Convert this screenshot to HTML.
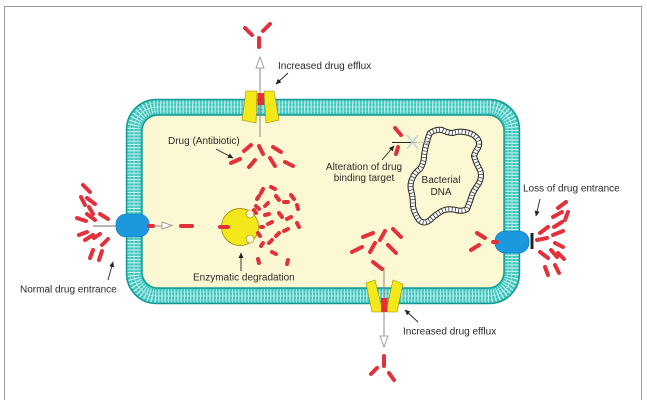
<!DOCTYPE html>
<html><head><meta charset="utf-8"><style>
html,body{margin:0;padding:0;background:#fff;}
svg{display:block;}
text{font-family:"Liberation Sans",Arial,sans-serif;font-size:10px;fill:#2a2a2a;}
</style></head><body>
<svg width="647" height="409" viewBox="0 0 647 409" xmlns="http://www.w3.org/2000/svg">
<defs>
<marker id="ah" markerWidth="6" markerHeight="6" refX="5" refY="3" orient="auto" markerUnits="userSpaceOnUse">
<path d="M0,0.5 L5.5,3 L0,5.5 Z" fill="#222"/></marker>
<path id="dnap" d="M430,133 Q436,129 442,130 Q448,133 453,133 Q458,131 464,132 Q472,133 476,137 Q481,142 478,148 Q475,152 474,156 Q476,163 479,168 Q483,175 479,183 Q474,190 472,195 Q470,202 467,209 Q462,212 456,210 Q448,208 442,211 Q435,215 430,220 Q424,225 419,220 Q414,213 413,206 Q413,200 412,194 Q409,186 412,179 Q415,172 420,169 Q424,163 424,156 Q425,148 427,142 Q428,137 430,133 Z"/>
</defs>
<!-- frame -->
<path d="M4.5,400 V6.5 H641.5 V400" fill="none" stroke="#9a9a9a" stroke-width="1"/>

<!-- membrane -->
<path fill-rule="evenodd" fill="#38c4bc" d="M156,99 H490 A30,30 0 0 1 520,129 V274 A30,30 0 0 1 490,304 H156 A30,30 0 0 1 126,274 V129 A30,30 0 0 1 156,99 Z M158,115 H488 A16,16 0 0 1 504,131 V272 A16,16 0 0 1 488,288 H158 A16,16 0 0 1 142,272 V131 A16,16 0 0 1 158,115 Z"/>
<rect x="134" y="107" width="378" height="189" rx="23" fill="none" stroke="#d2f4f0" stroke-width="13" stroke-dasharray="1.1 2.1"/>
<rect x="134" y="107" width="378" height="189" rx="23" fill="none" stroke="#bdeeea" stroke-width="0.8"/>
<rect x="130" y="103" width="386" height="197" rx="27" fill="none" stroke="#9fe3de" stroke-width="0.6"/>
<rect x="138" y="111" width="370" height="181" rx="19" fill="none" stroke="#9fe3de" stroke-width="0.6"/>
<rect x="126.5" y="99.5" width="393" height="204" rx="30" fill="none" stroke="#139a92" stroke-width="1.4"/>
<rect x="142" y="115" width="362" height="173" rx="16" fill="#fcf8d3" stroke="#139a92" stroke-width="1.4"/>

<!-- top efflux pump -->
<line x1="260" y1="137" x2="260" y2="68" stroke="#8a8a8a" stroke-width="1"/>
<path d="M260,57 L256,68 L264,68 Z" fill="#fff" stroke="#8a8a8a" stroke-width="0.8"/>
<polygon points="246,91 257,91 256,123 242,120" fill="#f5e81a" stroke="#9a8b00" stroke-width="0.6"/>
<polygon points="264,91 274,91 279,120 266,123" fill="#f5e81a" stroke="#9a8b00" stroke-width="0.6"/>
<rect x="257.5" y="93" width="6.5" height="12" fill="#e3313c"/>

<!-- bottom efflux pump -->
<line x1="384" y1="267" x2="384" y2="336" stroke="#8a8a8a" stroke-width="1"/>
<path d="M384,347 L380,336 L388,336 Z" fill="#fff" stroke="#8a8a8a" stroke-width="0.8"/>
<polygon points="366,283 375,280 383,312 372,312" fill="#f5e81a" stroke="#9a8b00" stroke-width="0.6"/>
<polygon points="393,280 403,284 397,312 386,312" fill="#f5e81a" stroke="#9a8b00" stroke-width="0.6"/>
<rect x="381" y="298" width="6.5" height="14" fill="#e3313c"/>

<!-- left porin -->
<line x1="93" y1="226" x2="118" y2="226" stroke="#8a8a8a" stroke-width="1.2"/>
<rect x="116" y="214" width="33" height="23" rx="10" fill="#1b98de" stroke="#0d6fae" stroke-width="0.6"/>
<line x1="153" y1="226" x2="163" y2="226" stroke="#8a8a8a" stroke-width="1"/>
<path d="M172,225.5 L162,222 L162,229 Z" fill="#fff" stroke="#8a8a8a" stroke-width="0.8"/>

<!-- right porin -->
<rect x="495" y="231" width="34" height="22" rx="10" fill="#1b98de" stroke="#0d6fae" stroke-width="0.6"/>
<line x1="532" y1="233" x2="532" y2="249" stroke="#222" stroke-width="3"/>

<!-- enzyme -->
<circle cx="240" cy="227" r="18.5" fill="#f5e81a" stroke="#8a7d00" stroke-width="0.7"/>
<circle cx="250" cy="214" r="4" fill="#fcf8d3" stroke="#8a7d00" stroke-width="0.6"/>
<circle cx="250" cy="239" r="4" fill="#fcf8d3" stroke="#8a7d00" stroke-width="0.6"/>

<!-- DNA -->
<g fill="none" stroke-linejoin="round">
<use href="#dnap" stroke="#222" stroke-width="6"/>
<use href="#dnap" stroke="#fff" stroke-width="4"/>
<use href="#dnap" stroke="#222" stroke-width="3.8" stroke-dasharray="0.7 2.6"/>
</g>

<!-- alteration of target -->
<line x1="392" y1="142.5" x2="411" y2="142.5" stroke="#222" stroke-width="1"/>
<line x1="407" y1="135" x2="418" y2="149" stroke="#c4d2de" stroke-width="1.5"/>
<line x1="407" y1="149" x2="418" y2="135" stroke="#c4d2de" stroke-width="1.5"/>
<line x1="412" y1="142.5" x2="426" y2="142.5" stroke="#999" stroke-width="0.8" stroke-dasharray="2 1"/>
<path d="M429,142.5 L424,140.5 M429,142.5 L424,144.5" stroke="#999" stroke-width="0.8" fill="none"/>

<!-- drugs (rods) -->
<g stroke="#e3313c" stroke-width="4" stroke-linecap="round" fill="none">
<line x1="245" y1="28" x2="252" y2="35"/><line x1="263" y1="31" x2="270" y2="24"/><line x1="259" y1="38" x2="259" y2="47"/>
<line x1="244" y1="151" x2="251" y2="145"/><line x1="259" y1="146" x2="263" y2="154"/><line x1="273" y1="147" x2="281" y2="152"/>
<line x1="231" y1="163" x2="240" y2="159"/><line x1="249" y1="167" x2="255" y2="160"/><line x1="270" y1="158" x2="275" y2="166"/><line x1="285" y1="162" x2="293" y2="166"/>
<line x1="83" y1="185" x2="90" y2="192"/><line x1="81" y1="197" x2="85" y2="205"/><line x1="87" y1="198" x2="95" y2="204"/>
<line x1="89" y1="207" x2="93" y2="214"/><line x1="77" y1="218" x2="86" y2="221"/><line x1="87" y1="214" x2="95" y2="220"/>
<line x1="100" y1="214" x2="108" y2="219"/><line x1="79" y1="235" x2="87" y2="232"/><line x1="85" y1="240" x2="93" y2="235"/>
<line x1="94" y1="238" x2="100" y2="234"/><line x1="102" y1="245" x2="108" y2="239"/><line x1="90" y1="258" x2="93" y2="250"/><line x1="99" y1="260" x2="102" y2="251"/>
<line x1="149" y1="226" x2="153" y2="226"/>
<line x1="181" y1="226" x2="192" y2="226"/>
<line x1="220" y1="227" x2="228" y2="227"/>
<line x1="261" y1="227" x2="263" y2="227"/>
<line x1="395" y1="128" x2="401" y2="135"/><line x1="398" y1="147" x2="396" y2="154"/>
<line x1="363" y1="237" x2="373" y2="233"/><line x1="380" y1="240" x2="385" y2="231"/><line x1="393" y1="229" x2="401" y2="237"/>
<line x1="352" y1="252" x2="362" y2="247"/><line x1="370" y1="252" x2="375" y2="243"/><line x1="388" y1="245" x2="396" y2="253"/>
<line x1="373" y1="262" x2="382" y2="269"/>
<line x1="384" y1="356" x2="384" y2="366"/><line x1="371" y1="374" x2="377" y2="368"/><line x1="389" y1="373" x2="394" y2="380"/>
<line x1="477" y1="233" x2="485" y2="238"/><line x1="471" y1="250" x2="479" y2="245"/>
<line x1="493" y1="242" x2="497" y2="242"/>
<line x1="558" y1="208" x2="566" y2="202"/><line x1="553" y1="217" x2="562" y2="212"/><line x1="565" y1="220" x2="568" y2="212"/>
<line x1="540" y1="233" x2="548" y2="227"/><line x1="554" y1="227" x2="562" y2="222"/><line x1="553" y1="235" x2="563" y2="231"/>
<line x1="537" y1="240" x2="547" y2="238"/><line x1="555" y1="243" x2="563" y2="247"/><line x1="540" y1="252" x2="548" y2="258"/>
<line x1="551" y1="250" x2="557" y2="257"/><line x1="558" y1="253" x2="564" y2="259"/><line x1="545" y1="267" x2="548" y2="275"/><line x1="555" y1="265" x2="559" y2="273"/>
</g>
<!-- enzyme fragments -->
<g stroke="#e3313c" stroke-width="4" stroke-linecap="round">
<line x1="261" y1="193" x2="263" y2="189"/><line x1="271" y1="187" x2="275" y2="189"/><line x1="276" y1="196" x2="279" y2="200"/>
<line x1="284" y1="202" x2="288" y2="202"/><line x1="291" y1="195" x2="294" y2="199"/><line x1="297" y1="205" x2="298" y2="209"/>
<line x1="256" y1="206" x2="259" y2="209"/><line x1="265" y1="215" x2="269" y2="214"/><line x1="279" y1="213" x2="282" y2="217"/>
<line x1="287" y1="219" x2="291" y2="217"/><line x1="297" y1="223" x2="299" y2="227"/><line x1="268" y1="224" x2="272" y2="222"/>
<line x1="276" y1="236" x2="279" y2="233"/><line x1="284" y1="231" x2="288" y2="229"/><line x1="269" y1="243" x2="272" y2="240"/>
<line x1="261" y1="246" x2="263" y2="243"/><line x1="272" y1="252" x2="276" y2="254"/><line x1="258" y1="259" x2="259" y2="263"/>
<line x1="288" y1="260" x2="287" y2="264"/><line x1="254" y1="210" x2="256" y2="213"/>
<line x1="257" y1="199" x2="259" y2="196"/><line x1="265" y1="206" x2="268" y2="203"/><line x1="258" y1="233" x2="260" y2="236"/>
</g>

<!-- pointer arrows -->
<g stroke="#222" stroke-width="0.9" fill="none" marker-end="url(#ah)">
<line x1="288" y1="73" x2="276" y2="84"/>
<line x1="216" y1="149" x2="233" y2="158"/>
<line x1="382" y1="160" x2="394" y2="146"/>
<line x1="540" y1="199" x2="536" y2="216"/>
<line x1="108" y1="280" x2="113" y2="262"/>
<line x1="241" y1="271" x2="241" y2="253"/>
<line x1="418" y1="322" x2="405" y2="310"/>
</g>

<!-- labels -->
<text x="278" y="69">Increased drug efflux</text>
<text x="168" y="144">Drug (Antibiotic)</text>
<text x="364" y="170" text-anchor="middle">Alteration of drug</text>
<text x="364" y="181" text-anchor="middle">binding target</text>
<text x="441" y="183" text-anchor="middle">Bacterial</text>
<text x="441" y="195" text-anchor="middle">DNA</text>
<text x="523" y="191.5">Loss of drug entrance</text>
<text x="20" y="292.5">Normal drug entrance</text>
<text x="193" y="280.5">Enzymatic degradation</text>
<text x="403" y="334.5">Increased drug efflux</text>
</svg>
</body></html>
